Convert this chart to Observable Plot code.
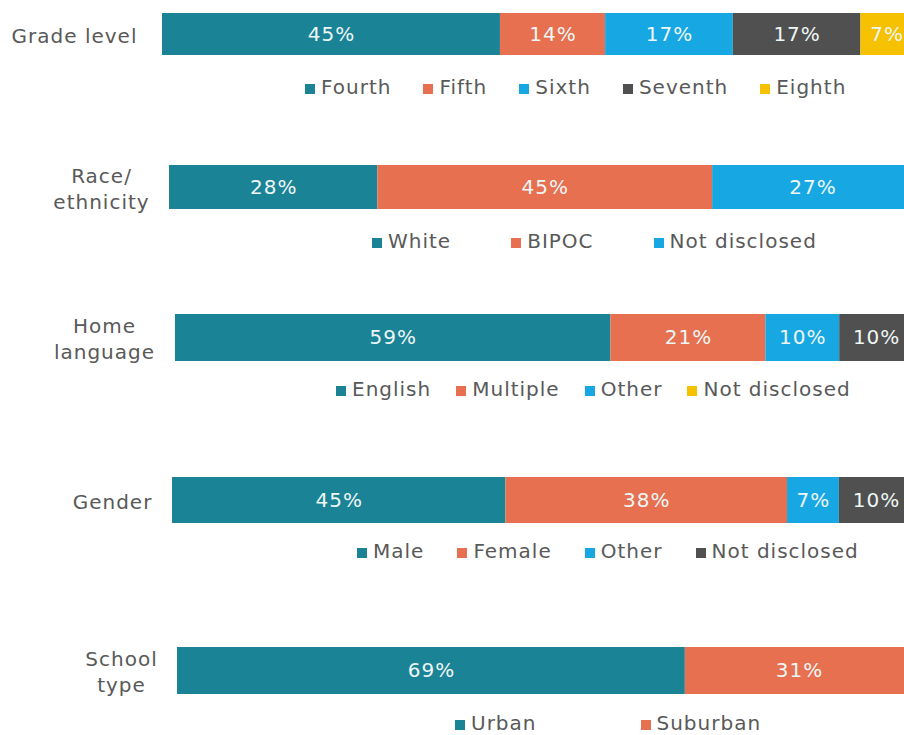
<!DOCTYPE html>
<html>
<head>
<meta charset="utf-8">
<script src="https://cdn.jsdelivr.net/npm/d3@7"></script>
<script src="https://cdn.jsdelivr.net/npm/@observablehq/plot@0.6"></script>
<style>
  html, body { margin: 0; padding: 0; background: #fff; overflow: hidden; }
  #chart { position: relative; width: 904px; height: 735px; overflow: hidden; font-family: "DejaVu Sans", Verdana, sans-serif; }
  .row { position: absolute; left: 0; }
  .legend { position: absolute; display: flex; align-items: center; font-size: 20px; letter-spacing: 1px; color: #595959; white-space: nowrap; }
  .legend .item { display: flex; align-items: center; }
  .legend .sw { display: inline-block; width: 10px; height: 10px; margin-right: 6px; margin-top: 3px; }
</style>
</head>
<body>
<div id="chart"></div>
<script>
// ---- data ----
const rowLabels = ["Grade level", "Race/\nethnicity", "Home\nlanguage", "Gender", "School\ntype"];

const gradeCategories = ["Fourth", "Fifth", "Sixth", "Seventh", "Eighth"];
const gradeValues = [45, 14, 17, 17, 7];

const raceCategories = ["White", "BIPOC", "Not disclosed"];
const raceValues = [28, 45, 27];

const languageCategories = ["English", "Multiple", "Other", "Not disclosed"];
const languageValues = [59, 21, 10, 10];

const genderCategories = ["Male", "Female", "Other", "Not disclosed"];
const genderValues = [45, 38, 7, 10];

const schoolCategories = ["Urban", "Suburban"];
const schoolValues = [69, 31];

// ---- styles ----
const teal = "#1b8396", orange = "#e6704f", blue = "#17a8e3", gray = "#505050", gold = "#f5c100";
const gradeBarColors = [teal, orange, blue, gray, gold];
const raceBarColors = [teal, orange, blue];
const languageBarColors = [teal, orange, blue, gray];
const languageLegendColors = [teal, orange, blue, gold];
const genderBarColors = [teal, orange, blue, gray];
const schoolBarColors = [teal, orange];

// layout per row: bar top/bottom, bar start, label center x, legend center y, legend left, legend gap
const rowsSpec = [
  {cats: gradeCategories, vals: gradeValues, bar: gradeBarColors, leg: gradeBarColors,
   top: 13, bottom: 55, start: 162, labelX: 74, legendY: 87, legendLeft: 305, gap: 32},
  {cats: raceCategories, vals: raceValues, bar: raceBarColors, leg: raceBarColors,
   top: 165, bottom: 209, start: 169, labelX: 101, legendY: 241, legendLeft: 372, gap: 60},
  {cats: languageCategories, vals: languageValues, bar: languageBarColors, leg: languageLegendColors,
   top: 314, bottom: 361, start: 175, labelX: 104, legendY: 389, legendLeft: 336, gap: 25},
  {cats: genderCategories, vals: genderValues, bar: genderBarColors, leg: genderBarColors,
   top: 477, bottom: 523, start: 172, labelX: 112, legendY: 551, legendLeft: 357, gap: 33},
  {cats: schoolCategories, vals: schoolValues, bar: schoolBarColors, leg: schoolBarColors,
   top: 647, bottom: 694, start: 177, labelX: 121, legendY: 723, legendLeft: 455, gap: 104}
];

const chart = document.getElementById("chart");
const W = 920, barEnd = 913, pad = 12;

rowsSpec.forEach((r, i) => {
  const data = r.cats.map((c, j) => ({category: c, value: r.vals[j], color: r.bar[j]}));
  const h = r.bottom - r.top;
  const svg = Plot.plot({
    width: W,
    height: h + 2 * pad,
    marginTop: pad,
    marginBottom: pad,
    marginLeft: r.start,
    marginRight: W - barEnd,
    x: {domain: [0, 100], axis: null},
    color: {type: "identity"},
    style: "max-width:none;overflow:visible;background:transparent;font-family:'DejaVu Sans',Verdana,sans-serif;font-size:20px;letter-spacing:1px;",
    marks: [
      Plot.barX(data, Plot.stackX({x: "value", fill: "color", inset: 0})),
      Plot.text(data, Plot.stackX({x: "value", text: d => d.value + "%", fill: "#eef6f6", fontSize: 20})),
      Plot.text([rowLabels[i]], {frameAnchor: "left", dx: r.labelX - r.start, textAnchor: "middle",
        fill: "#595959", fontSize: 20, lineHeight: 1.3})
    ]
  });
  const wrap = document.createElement("div");
  wrap.className = "row";
  wrap.style.top = (r.top - pad) + "px";
  wrap.appendChild(svg);
  chart.appendChild(wrap);

  const leg = document.createElement("div");
  leg.className = "legend";
  leg.style.left = r.legendLeft + "px";
  leg.style.top = (r.legendY - 13) + "px";
  leg.style.height = "26px";
  leg.style.gap = r.gap + "px";
  r.cats.forEach((c, j) => {
    const it = document.createElement("span");
    it.className = "item";
    const sw = document.createElement("span");
    sw.className = "sw";
    sw.style.background = r.leg[j];
    const tx = document.createElement("span");
    tx.textContent = c;
    it.appendChild(sw);
    it.appendChild(tx);
    leg.appendChild(it);
  });
  chart.appendChild(leg);
});
</script>
</body>
</html>
